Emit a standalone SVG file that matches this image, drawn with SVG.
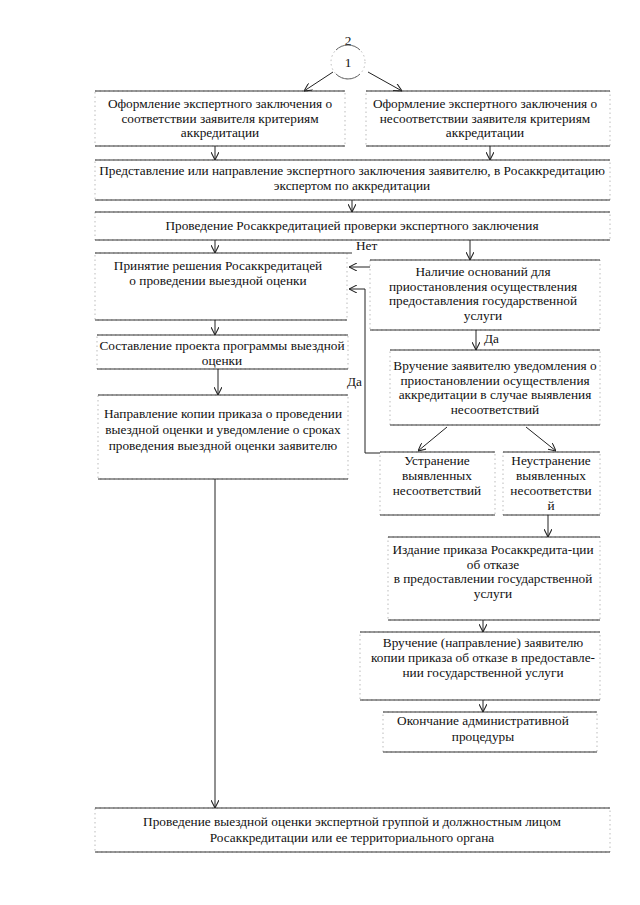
<svg xmlns="http://www.w3.org/2000/svg" width="640" height="905" viewBox="0 0 640 905">
<style>
text{font-family:"Liberation Serif","Times New Roman",serif;font-size:13.3px;fill:#111;text-anchor:middle}
.side{fill:none;stroke:#aaa;stroke-width:0.8;stroke-dasharray:1.5 3}
.hl{fill:none;stroke:#333;stroke-width:1}
.c{fill:none;stroke:#222;stroke-width:1;marker-end:url(#ah)}
.l{fill:none;stroke:#666;stroke-width:1}
.lab{text-anchor:start}
</style>
<defs>
<marker id="ah" viewBox="0 0 10 10" refX="10" refY="5" markerWidth="8" markerHeight="8" markerUnits="userSpaceOnUse" orient="auto">
<path d="M0,0 L10,5 L0,10" fill="none" stroke="#222" stroke-width="1.3"/>
</marker>
</defs>
<rect width="640" height="905" fill="#fff"/>

<g id="start">
<text x="348" y="45" font-size="14">2</text>
<circle cx="348" cy="62" r="17" class="side"/>
<path d="M336,50 A17,17 0 0 1 360,50" class="l"/>
<path d="M336,74 A17,17 0 0 0 360,74" class="l"/>
<text x="348" y="67" font-size="14">1</text>
</g>

<g id="n1a">
<rect x="95" y="91" width="250" height="55" class="side"/>
<path d="M95,91 H345 M95,146 H345" class="hl"/>
<text x="220" y="108">Оформление экспертного заключения о</text>
<text x="220" y="123">соответствии заявителя критериям</text>
<text x="220" y="137">аккредитации</text>
</g>

<g id="n1b">
<rect x="366" y="91" width="244" height="55" class="side"/>
<path d="M366,91 H610 M366,146 H610" class="hl"/>
<text x="485" y="108">Оформление экспертного заключения о</text>
<text x="485" y="123">несоответствии заявителя критериям</text>
<text x="485" y="137">аккредитации</text>
</g>

<g id="n2">
<rect x="95" y="160" width="515" height="40" class="side"/>
<path d="M95,160 H610 M95,200 H610" class="hl"/>
<text x="352" y="175">Представление или направление экспертного заключения заявителю, в Росаккредитацию</text>
<text x="352" y="190">экспертом по аккредитации</text>
</g>

<g id="n3">
<rect x="95" y="212" width="515" height="28" class="side"/>
<path d="M95,212 H610 M95,240 H610" class="hl"/>
<text x="352" y="230">Проведение Росаккредитацией проверки экспертного заключения</text>
</g>

<g id="n4">
<rect x="95" y="253" width="252" height="67" class="side"/>
<path d="M95,253 H352 M95,320 H347" class="hl"/>
<text x="218" y="270">Принятие решения Росаккредитацей</text>
<text x="218" y="285">о проведении выездной оценки</text>
</g>

<g id="n5">
<rect x="97" y="335" width="251" height="34" class="side"/>
<path d="M97,335 H348 M97,369 H348" class="hl"/>
<text x="222" y="350">Составление проекта программы выездной</text>
<text x="222" y="365">оценки</text>
</g>

<g id="n6">
<rect x="98" y="395" width="250" height="84" class="side"/>
<path d="M98,395 H348 M98,479 H348" class="hl"/>
<text x="223" y="418">Направление копии приказа о проведении</text>
<text x="223" y="434">выездной оценки и уведомление о сроках</text>
<text x="223" y="450">проведения выездной оценки заявителю</text>
</g>

<g id="n7">
<rect x="370" y="260" width="230" height="70" class="side"/>
<path d="M370,260 H600 M370,330 H600" class="hl"/>
<text x="483" y="276">Наличие оснований для</text>
<text x="483" y="291">приостановления осуществления</text>
<text x="483" y="305">предоставления государственной</text>
<text x="483" y="320">услуги</text>
</g>

<g id="n8">
<rect x="390" y="350" width="210" height="75" class="side"/>
<path d="M390,350 H600 M390,425 H600" class="hl"/>
<text x="495" y="370">Вручение заявителю уведомления о</text>
<text x="495" y="385">приостановлении осуществления</text>
<text x="495" y="399">аккредитации в случае выявления</text>
<text x="495" y="414">несоответствий</text>
</g>

<g id="n9">
<rect x="380" y="452" width="115" height="63" class="side"/>
<path d="M380,452 H495 M380,515 H495" class="hl"/>
<text x="437" y="465">Устранение</text>
<text x="437" y="480">выявленных</text>
<text x="437" y="495">несоответствий</text>
</g>

<g id="n10">
<rect x="503" y="452" width="97" height="63" class="side"/>
<path d="M503,452 H600 M503,515 H600" class="hl"/>
<text x="551" y="465">Неустранение</text>
<text x="551" y="480">выявленных</text>
<text x="551" y="495">несоответстви</text>
<text x="551" y="510">й</text>
</g>

<g id="n11">
<rect x="388" y="537" width="212" height="83" class="side"/>
<path d="M388,537 H600 M388,620 H600" class="hl"/>
<text x="493" y="554">Издание приказа Росаккредита-ции</text>
<text x="493" y="569">об отказе</text>
<text x="493" y="583">в предоставлении государственной</text>
<text x="493" y="598">услуги</text>
</g>

<g id="n12">
<rect x="360" y="632" width="240" height="68" class="side"/>
<path d="M360,632 H600 M360,700 H600" class="hl"/>
<text x="483" y="647">Вручение (направление) заявителю</text>
<text x="483" y="662">копии приказа об отказе в предоставле-</text>
<text x="483" y="677">нии государственной услуги</text>
</g>

<g id="n13">
<rect x="383" y="712" width="214" height="40" class="side"/>
<path d="M383,712 H597 M383,752 H597" class="hl"/>
<text x="483" y="725">Окончание административной</text>
<text x="483" y="741">процедуры</text>
</g>

<g id="n14">
<rect x="95" y="808" width="515" height="44" class="side"/>
<path d="M95,808 H610 M95,852 H610" class="hl"/>
<text x="352" y="826">Проведение выездной оценки экспертной группой и должностным лицом</text>
<text x="352" y="842">Росаккредитации или ее территориального органа</text>
</g>

<g id="connectors">
<path d="M333,72 L304,91" class="c"/>
<path d="M368,72 L402,91" class="c"/>
<path d="M215,146 V160" class="c"/>
<path d="M490,146 V160" class="c"/>
<path d="M352,200 V212" class="c"/>
<path d="M215,240 V253" class="c"/>
<path d="M470,240 V260" class="c"/>
<path d="M370,267 H349" class="c"/>
<text x="356" y="250" class="lab">Нет</text>
<path d="M380,453 H365 V289 H349" class="c"/>
<text x="362" y="386" style="text-anchor:end">Да</text>
<path d="M215,320 V335" class="c"/>
<path d="M218,369 V395" class="c"/>
<path d="M476,330 V350" class="c"/>
<text x="484" y="343" class="lab">Да</text>
<path d="M447,427 L418,451" class="c"/>
<path d="M526,427 L556,451" class="c"/>
<path d="M548,515 V537" class="c"/>
<path d="M483,620 V632" class="c"/>
<path d="M483,700 V712" class="c"/>
<path d="M215,479 V808" class="c"/>
</g>
</svg>
